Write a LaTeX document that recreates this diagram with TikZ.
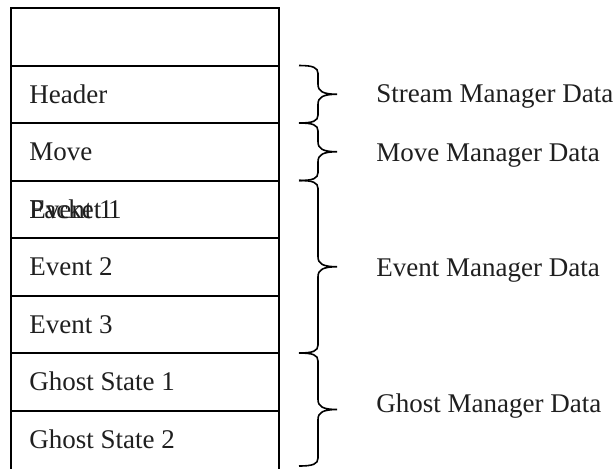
\documentclass[tikz,border=0pt]{standalone}
\usepackage{fontspec}
\setmainfont{Liberation Serif}
\usetikzlibrary{calc}
\begin{document}
\begin{tikzpicture}[x=0.5pt,y=-0.5pt,
  cell/.style={draw, line width=1pt, minimum width=134pt, minimum height=28.75pt,
    inner sep=0pt, outer sep=0pt, anchor=north west},
  celltext/.style={anchor=base west, inner sep=0pt, text=black!88, font=\fontsize{13.5}{16}\selectfont},
  datatext/.style={anchor=base west, inner sep=0pt, text=black!88, font=\fontsize{13.5}{16}\selectfont},
  % right curly brace between two points stacked vertically (start above end)
  curly/.style={line width=0.8pt, to path={
    let \p1=(\tikztostart), \p2=(\tikztotarget), \n1={(\y1+\y2)/2} in
    (\x1,\y1) .. controls (\x1+7pt,\y1) and (\x1+9.5pt,\y1-1pt) .. (\x1+9.5pt,\y1-4pt)
    -- (\x1+9.5pt,\n1+5pt)
    .. controls (\x1+9.5pt,\n1+1.5pt) and (\x1+12pt,\n1) .. (\x1+19pt,\n1)
    .. controls (\x1+12pt,\n1) and (\x1+9.5pt,\n1-1.5pt) .. (\x1+9.5pt,\n1-5pt)
    -- (\x1+9.5pt,\y2+4pt)
    .. controls (\x1+9.5pt,\y2+1pt) and (\x1+7pt,\y2) .. (\x2,\y2)}}]
\clip (0,0) rectangle (614,468);
% stack of packet slots
\node[cell] (blank)  at (11,8)     {};
\node[cell] (header) at (11,65.5)  {};
\node[cell] (move)   at (11,123)   {};
\node[cell] (ev1)    at (11,180.5) {};
\node[cell] (ev2)    at (11,238)   {};
\node[cell] (ev3)    at (11,295.5) {};
\node[cell] (gs1)    at (11,353)   {};
\node[cell, minimum height=40pt] (gs2) at (11,410.5) {};
% slot captions
\node[celltext] (theader) at (29,103)   {Header};
\node[celltext] (tmove)   at (29,160.5) {Move};
\node[celltext] (tev1a)   at (29,218)   {Event 1};
\node[celltext] (tev1b)   at (29,218)   {Packet 1};
\node[celltext] (tev2)    at (29,275.5) {Event 2};
\node[celltext] (tev3)    at (29,333)   {Event 3};
\node[celltext] (tgs1)    at (29,390.5) {Ghost State 1};
\node[celltext] (tgs2)    at (29,448)   {Ghost State 2};
% brace end points
\coordinate (s1) at (299,65.5);
\coordinate (s2) at (299,123);
\coordinate (s3) at (299,180.5);
\coordinate (s4) at (299,353);
\coordinate (s5) at (299,466);
\draw[curly] (s1) to (s2);
\draw[curly] (s2) to (s3);
\draw[curly] (s3) to (s4);
\draw[curly] (s4) to (s5);
% manager labels
\node[datatext] (lstream) at (376,102)   {Stream Manager Data};
\node[datatext] (lmove)   at (376,161)   {Move Manager Data};
\node[datatext] (levent)  at (376,276.5) {Event Manager Data};
\node[datatext] (lghost)  at (376,412)   {Ghost Manager Data};
\end{tikzpicture}
\end{document}
